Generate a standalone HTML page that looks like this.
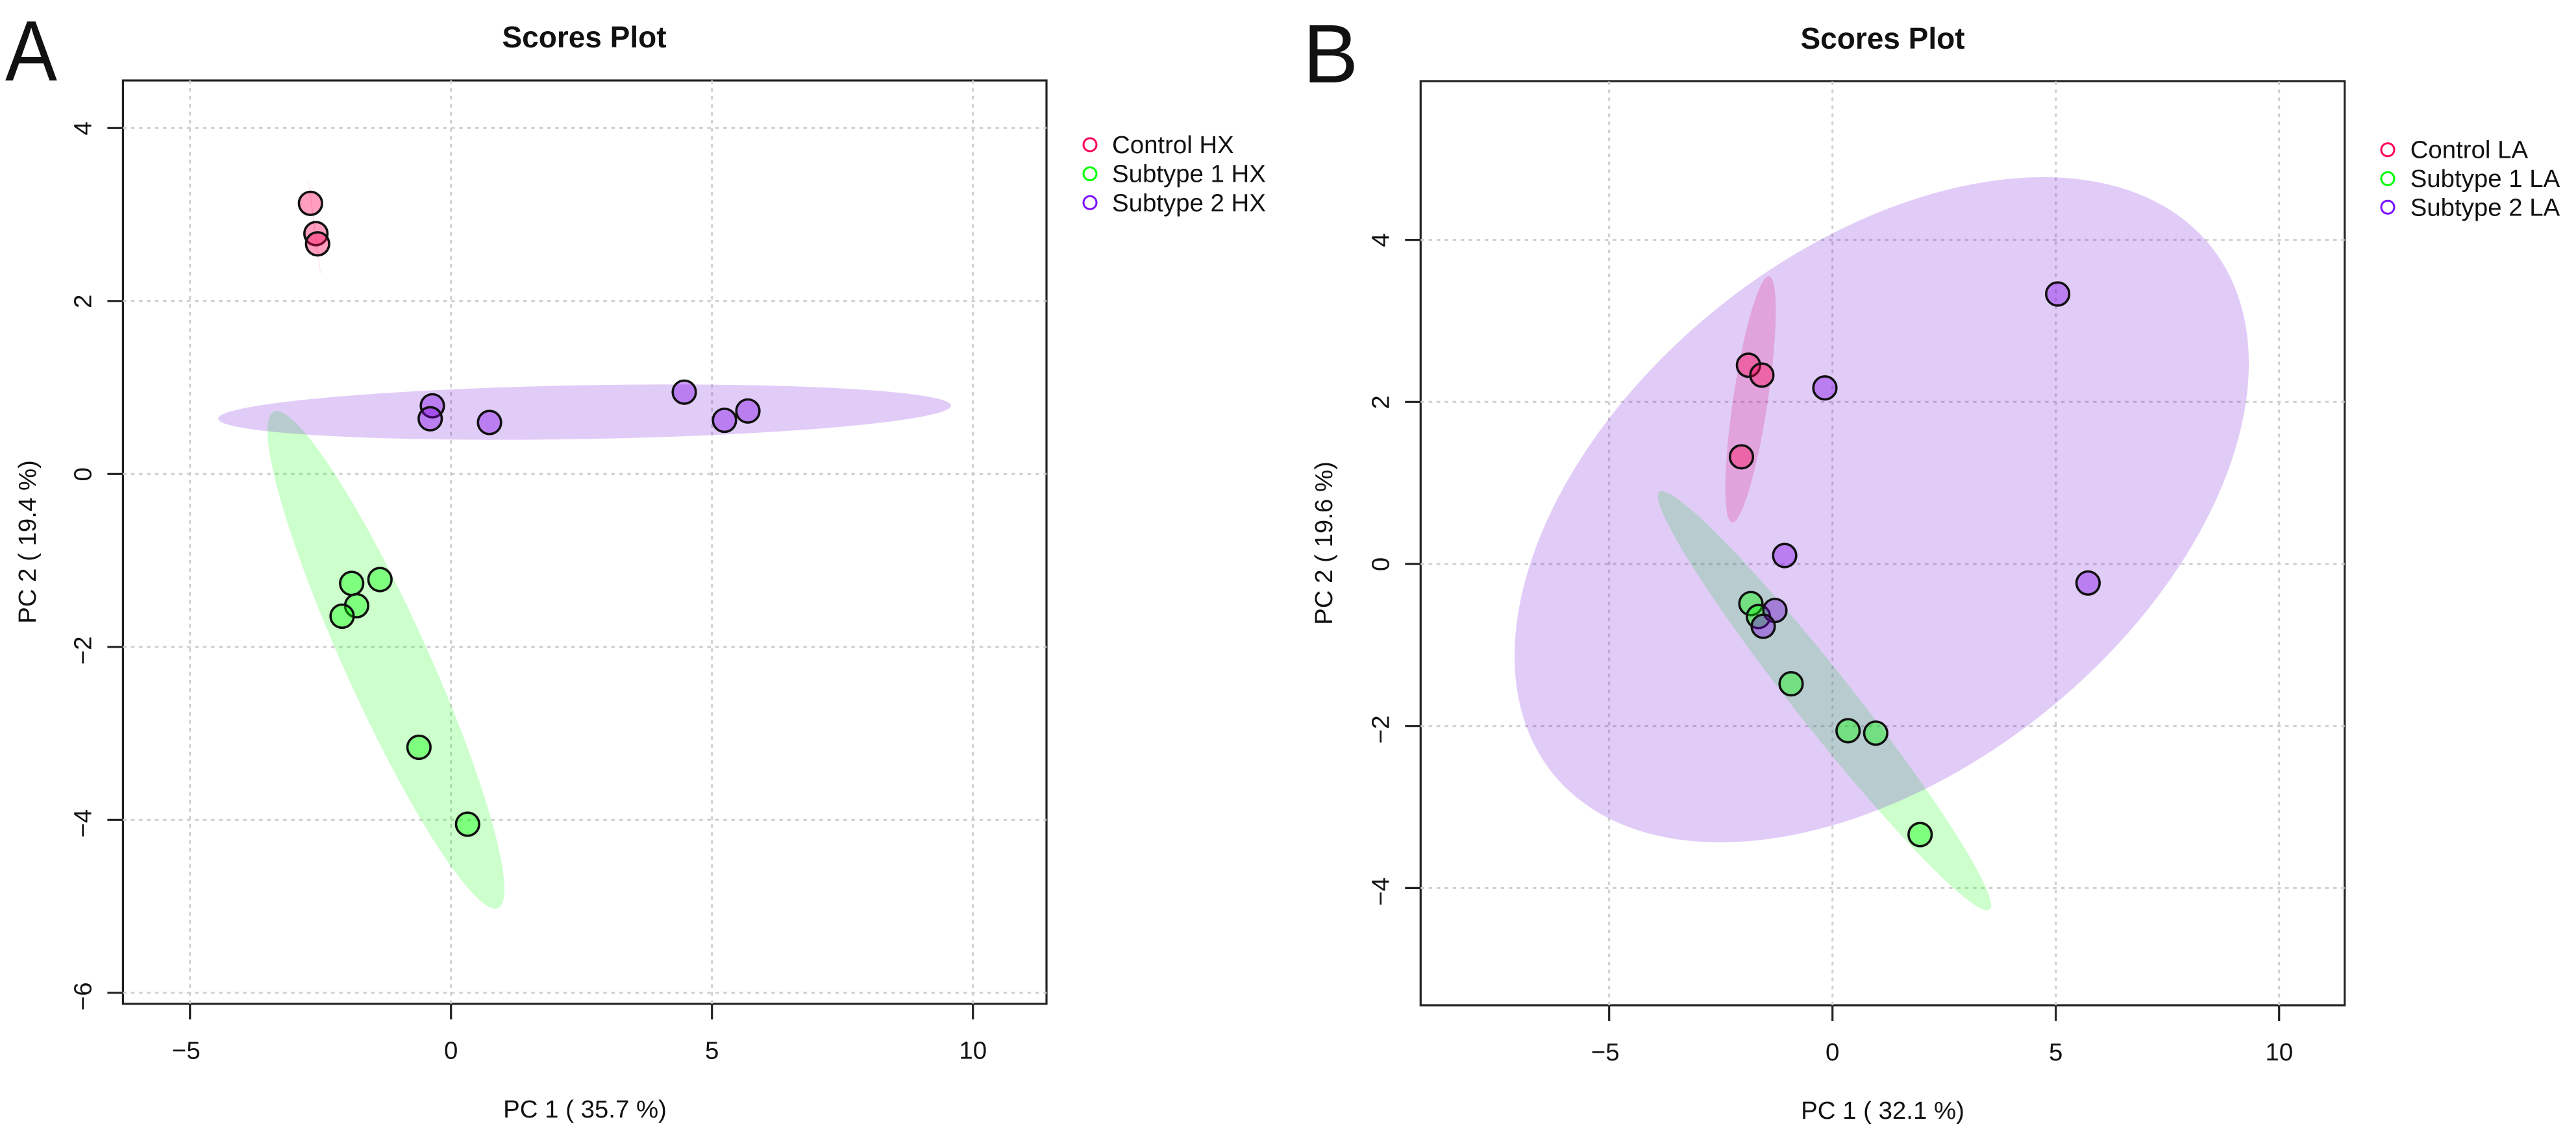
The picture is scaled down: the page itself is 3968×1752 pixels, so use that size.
<!DOCTYPE html>
<html lang="en">
<head>
<meta charset="utf-8">
<title>Scores Plots</title>
<style>
html,body{margin:0;padding:0;background:#fff;width:3968px;height:1752px;overflow:hidden}
svg{display:block}
text{font-family:"Liberation Sans",sans-serif;fill:#111}
</style>
</head>
<body>
<svg id="figure" xmlns="http://www.w3.org/2000/svg" width="3968" height="1752" viewBox="0 0 3968 1752">
  <rect x="0" y="0" width="3968" height="1752" fill="#ffffff"/>

  <g id="panel-a"></g>
  <g id="panel-b"></g>

  <text x="8" y="124" font-size="132" textLength="80" lengthAdjust="spacingAndGlyphs">A</text>
  <text x="2007" y="127" font-size="128">B</text>

  <text x="900" y="73" font-size="46" font-weight="bold" text-anchor="middle">Scores Plot</text>
  <text x="2900" y="75" font-size="46" font-weight="bold" text-anchor="middle">Scores Plot</text>

  <text x="901" y="1722" font-size="38.4" text-anchor="middle">PC 1 ( 35.7 %)</text>
  <text x="2900" y="1724" font-size="38.4" text-anchor="middle">PC 1 ( 32.1 %)</text>
  <text transform="translate(55 835) rotate(-90)" font-size="38.4" text-anchor="middle">PC 2 ( 19.4 %)</text>
  <text transform="translate(2052 837) rotate(-90)" font-size="38.4" text-anchor="middle">PC 2 ( 19.6 %)</text>

  <g>
    <g>
      <circle cx="1679" cy="223" r="10" fill="none" stroke="#ff0055" stroke-width="3"/>
      <text x="1713" y="236" font-size="38.4">Control HX</text>
    </g>
    <g>
      <circle cx="1679" cy="267.7" r="10" fill="none" stroke="#00ff00" stroke-width="3"/>
      <text x="1713" y="280.7" font-size="38.4">Subtype 1 HX</text>
    </g>
    <g>
      <circle cx="1679" cy="312.3" r="10" fill="none" stroke="#7a10ff" stroke-width="3"/>
      <text x="1713" y="325.3" font-size="38.4">Subtype 2 HX</text>
    </g>
  </g>

  <g>
    <g>
      <circle cx="3678" cy="230.7" r="10" fill="none" stroke="#ff0055" stroke-width="3"/>
      <text x="3712.7" y="243.3" font-size="38.4">Control LA</text>
    </g>
    <g>
      <circle cx="3678" cy="275.3" r="10" fill="none" stroke="#00ff00" stroke-width="3"/>
      <text x="3712.7" y="288" font-size="38.4">Subtype 1 LA</text>
    </g>
    <g>
      <circle cx="3678" cy="319.3" r="10" fill="none" stroke="#7a10ff" stroke-width="3"/>
      <text x="3712.7" y="332.3" font-size="38.4">Subtype 2 LA</text>
    </g>
  </g>
</svg>

<script>
/* ---------- Panel A data (HX) ---------- */
const hxXTicks = [-5, 0, 5, 10];
const hxYTicks = [-6, -4, -2, 0, 2, 4];
const hxControlPc1 = [-2.692, -2.588, -2.556];
const hxControlPc2 = [3.129, 2.779, 2.661];
const hxSubtype1Pc1 = [-1.903, -1.361, -1.808, -2.086, -0.614, 0.318];
const hxSubtype1Pc2 = [-1.266, -1.221, -1.524, -1.645, -3.161, -4.050];
const hxSubtype2Pc1 = [-0.357, -0.398, 0.738, 4.469, 5.240, 5.688];
const hxSubtype2Pc2 = [0.788, 0.638, 0.595, 0.946, 0.620, 0.728];
/* confidence ellipses: centre, half-extent, correlation (data units) for control, subtype 1, subtype 2 */
const hxEllipseCenterX = [-2.614, -1.246, 2.56];
const hxEllipseCenterY = [2.854, -2.150, 0.715];
const hxEllipseHalfX = [0.118, 2.27, 7.02];
const hxEllipseHalfY = [0.548, 2.876, 0.32];
const hxEllipseRho = [-0.998, -0.922, 0.235];

/* ---------- Panel B data (LA) ---------- */
const laXTicks = [-5, 0, 5, 10];
const laYTicks = [-4, -2, 0, 2, 4];
const laControlPc1 = [-1.881, -1.581, -2.038];
const laControlPc2 = [2.453, 2.331, 1.322];
const laSubtype1Pc1 = [-1.827, -1.658, -0.926, 0.349, 0.968, 1.962];
const laSubtype1Pc2 = [-0.489, -0.649, -1.479, -2.058, -2.088, -3.340];
const laSubtype2Pc1 = [-0.170, -1.071, -1.289, -1.551, 5.042, 5.722];
const laSubtype2Pc2 = [2.173, 0.104, -0.574, -0.769, 3.332, -0.235];
const laEllipseCenterX = [-1.834, -0.18, 1.102];
const laEllipseCenterY = [2.031, -1.688, 0.669];
const laEllipseHalfX = [0.564, 3.731, 8.22];
const laEllipseHalfY = [1.519, 2.587, 4.105];
const laEllipseRho = [0.72, -0.976, 0.44];

const groupKeys = ['control', 'subtype-1', 'subtype-2'];
const ellipseColors = ['#ff0055', '#00ff00', '#6a00dc'];
const pointColors = ['#ff0055', '#00ff00', '#7f00e4'];

const SVG_NS = 'http://www.w3.org/2000/svg';

function mk(tag, attrs, parent) {
  const el = document.createElementNS(SVG_NS, tag);
  for (const k in attrs) el.setAttribute(k, attrs[k]);
  parent.appendChild(el);
  return el;
}

function drawPanel(p) {
  const root = document.getElementById(p.id);
  const sx = v => p.x0 + p.kx * v;
  const sy = v => p.y0 - p.ky * v;

  const frame = mk('rect', {x: p.left, y: p.top, width: p.right - p.left, height: p.bottom - p.top, fill: 'none', stroke: '#222', 'stroke-width': 3.2}, root);
  
  

  /* grid */
  const grid = mk('g', {stroke: '#cfcfcf', 'stroke-width': 3, 'stroke-dasharray': '5.5 6.83', fill: 'none'}, root);
  
  
  p.xTicks.forEach(t => {
    const line = mk('line', {x1: sx(t), x2: sx(t), y1: p.bottom, y2: p.top}, grid);
    
    
  });
  p.yTicks.forEach(t => {
    const line = mk('line', {x1: p.left, x2: p.right, y1: sy(t), y2: sy(t)}, grid);
    
    
  });

  /* ticks and tick labels */
  p.xTicks.forEach(t => {
    const tick = mk('line', {x1: sx(t), x2: sx(t), y1: p.bottom, y2: p.bottom + 24, stroke: '#222', 'stroke-width': 3.2}, root);
    
    
    const label = mk('text', {x: sx(t) - (t < 0 ? 6 : 0), y: p.bottom + 85, 'font-size': 38.4, 'text-anchor': 'middle'}, root);
    label.textContent = String(t).replace('-', '\u2212');
    
    
  });
  p.yTicks.forEach(t => {
    const tick = mk('line', {x1: p.left, x2: p.left - 24, y1: sy(t), y2: sy(t), stroke: '#222', 'stroke-width': 3.2}, root);
    
    
    const label = mk('text', {transform: 'translate(' + (p.left - 49) + ' ' + (sy(t) + (t < 0 ? 5.5 : 0.5)) + ') rotate(-90)', 'font-size': 38.4, 'text-anchor': 'middle'}, root);
    label.textContent = String(t).replace('-', '\u2212');
    
    
  });

  /* confidence ellipses */
  groupKeys.forEach((key, i) => {
    const cx = p.ecx[i], cy = p.ecy[i], hx = p.ehx[i], hy = p.ehy[i], rho = p.erho[i];
    const q = Math.sqrt(1 - rho * rho);
    let d = '';
    for (let s = 0; s < 180; s++) {
      const a = s / 180 * 2 * Math.PI;
      const vx = cx + hx * Math.cos(a);
      const vy = cy + hy * (rho * Math.cos(a) + q * Math.sin(a));
      d += (s ? 'L' : 'M') + sx(vx).toFixed(2) + ' ' + sy(vy).toFixed(2);
    }
    const ell = mk('path', {d: d + 'Z', fill: ellipseColors[i], 'fill-opacity': 0.2, stroke: 'none'}, root);
    
    
  });

  /* score points */
  groupKeys.forEach((key, i) => {
    const xs = p.px[i], ys = p.py[i];
    xs.forEach((v, j) => {
      const dot = mk('circle', {cx: sx(v), cy: sy(ys[j]), r: 17.8, fill: pointColors[i], 'fill-opacity': 0.38, stroke: '#111', 'stroke-width': 3.6}, root);
      
      
    });
  });
}

drawPanel({
  id: 'panel-a',
  left: 189.4, right: 1612, top: 124, bottom: 1546.7,
  x0: 694.7, kx: 80.4, y0: 730.3, ky: 133.25,
  xTicks: hxXTicks, yTicks: hxYTicks,
  px: [hxControlPc1, hxSubtype1Pc1, hxSubtype2Pc1],
  py: [hxControlPc2, hxSubtype1Pc2, hxSubtype2Pc2],
  ecx: hxEllipseCenterX, ecy: hxEllipseCenterY, ehx: hxEllipseHalfX, ehy: hxEllipseHalfY, erho: hxEllipseRho
});

drawPanel({
  id: 'panel-b',
  left: 2188.3, right: 3611.7, top: 125, bottom: 1549,
  x0: 2822.7, kx: 68.8, y0: 869, ky: 124.85,
  xTicks: laXTicks, yTicks: laYTicks,
  px: [laControlPc1, laSubtype1Pc1, laSubtype2Pc1],
  py: [laControlPc2, laSubtype1Pc2, laSubtype2Pc2],
  ecx: laEllipseCenterX, ecy: laEllipseCenterY, ehx: laEllipseHalfX, ehy: laEllipseHalfY, erho: laEllipseRho
});
</script>
</body>
</html>
